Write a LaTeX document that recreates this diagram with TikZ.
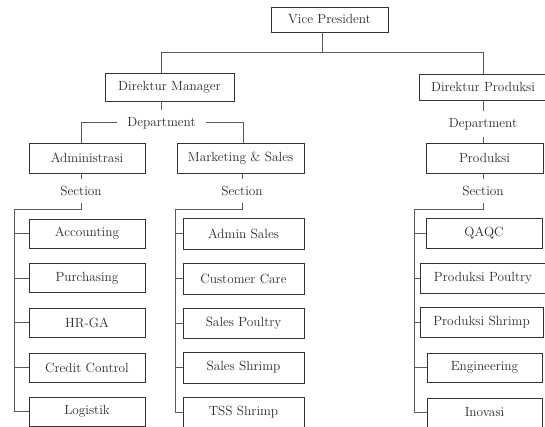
\documentclass[tikz,border=0pt]{standalone}
\usetikzlibrary{calc}
\definecolor{boxc}{HTML}{333333}
\definecolor{linec}{HTML}{5A5A5A}
\definecolor{txtc}{HTML}{2A2A2A}
\begin{document}
\begin{tikzpicture}[x=1pt,y=-1pt,
  box/.style={draw=boxc,line width=0.95pt,fill=white,inner sep=0pt,text=txtc,
    font=\fontsize{13.3}{15}\selectfont},
  lbl/.style={inner xsep=10pt,inner ysep=7pt,text=txtc,font=\fontsize{13.3}{15}\selectfont},
  conn/.style={draw=linec,line width=0.85pt}]
\useasboundingbox (0,0) rectangle (545,427);
\fill[white] (0,0) rectangle (545,427);
% top level
\node[box,minimum width=117pt,minimum height=25pt] (vp) at (329.5,19.5) {Vice President};
\node[box,minimum width=129pt,minimum height=28pt] (dm) at (169.5,87) {Direktur Manager};
\node[box,minimum width=128pt,minimum height=26pt] (dp) at (483,87) {Direktur Produksi};
\coordinate (j0) at (322,52);
\coordinate (jl) at (161,52);
\coordinate (jr) at (483,52);
% departments
\node[lbl] (dept1) at (161.5,123) {Department};
\node[lbl] (dept2) at (483,124) {Department};
\coordinate (bl) at (81,122);
\coordinate (br) at (243,122);
\node[box,minimum width=116pt,minimum height=30pt] (adm) at (87,158) {Administrasi};
\node[box,minimum width=127pt,minimum height=30pt] (mkt) at (240.5,158) {Marketing \& Sales};
\node[box,minimum width=117pt,minimum height=30pt] (prod) at (484.5,158) {Produksi};
% sections
\node[lbl] (sec1) at (81,191) {Section};
\node[lbl] (sec2) at (242,191) {Section};
\node[lbl] (sec3) at (483,191) {Section};
\coordinate (c1) at (81,209);
\coordinate (c2) at (242,209);
\coordinate (c3) at (483,209);
\coordinate (l1) at (14,209);
\coordinate (l2) at (175,209);
\coordinate (l3) at (414,209);
% left column
\node[box,minimum width=116pt,minimum height=29pt] (a1) at (87,233.5) {Accounting};
\node[box,minimum width=116pt,minimum height=29pt] (a2) at (87,278) {Purchasing};
\node[box,minimum width=116pt,minimum height=29pt] (a3) at (87,322.5) {HR-GA};
\node[box,minimum width=116pt,minimum height=29pt] (a4) at (87,367.5) {Credit Control};
\node[box,minimum width=116pt,minimum height=29pt] (a5) at (87,411.5) {Logistik};
% middle column
\node[box,minimum width=121pt,minimum height=31pt] (m1) at (243.5,233.5) {Admin Sales};
\node[box,minimum width=121pt,minimum height=31pt] (m2) at (243.5,278.5) {Customer Care};
\node[box,minimum width=121pt,minimum height=30pt] (m3) at (243.5,323) {Sales Poultry};
\node[box,minimum width=121pt,minimum height=31pt] (m4) at (243.5,367.5) {Sales Shrimp};
\node[box,minimum width=121pt,minimum height=30pt] (m5) at (243.5,412) {TSS Shrimp};
% right column
\node[box,minimum width=116pt,minimum height=30pt] (r1) at (484,233) {QAQC};
\node[box,minimum width=126pt,minimum height=30pt] (r2) at (483,278) {Produksi Poultry};
\node[box,minimum width=123pt,minimum height=30pt] (r3) at (481.5,322) {Produksi Shrimp};
\node[box,minimum width=115pt,minimum height=29pt] (r4) at (484.5,367.5) {Engineering};
\node[box,minimum width=115pt,minimum height=29pt] (r5) at (484.5,412.5) {Inovasi};
% connectors top
\draw[conn] (vp.south -| j0) -- (j0);
\draw[conn] (jl) -- (jr);
\draw[conn] (jl) -- (jl |- dm.north);
\draw[conn] (jr) -- (dp.north);
\draw[conn] (dm.south -| jl) -- (dept1.north -| jl);
\draw[conn] (dp.south) -- (dept2.north);
\draw[conn] (dept1.west |- bl) -- (bl) -- (bl |- adm.north);
\draw[conn] (dept1.east |- br) -- (br) -- (br |- mkt.north);
\draw[conn] (dept2.south) -- (dept2.south |- prod.north);
% connectors sections
\draw[conn] (adm.south -| sec1) -- (sec1.north);
\draw[conn] (mkt.south -| sec2) -- (sec2.north);
\draw[conn] (prod.south -| sec3) -- (sec3.north);
\draw[conn] (sec1.south) -- (c1) -- (l1) -- (l1 |- a5);
\draw[conn] (sec2.south) -- (c2) -- (l2) -- (l2 |- m5);
\draw[conn] (sec3.south) -- (c3) -- (l3) -- (l3 |- r5);
\foreach \n in {a1,a2,a3,a4,a5} {\draw[conn] (l1 |- \n) -- (\n.west);}
\foreach \n in {m1,m2,m3,m4,m5} {\draw[conn] (l2 |- \n) -- (\n.west);}
\foreach \n in {r1,r2,r3,r4,r5} {\draw[conn] (l3 |- \n) -- (\n.west);}
\end{tikzpicture}
\end{document}
